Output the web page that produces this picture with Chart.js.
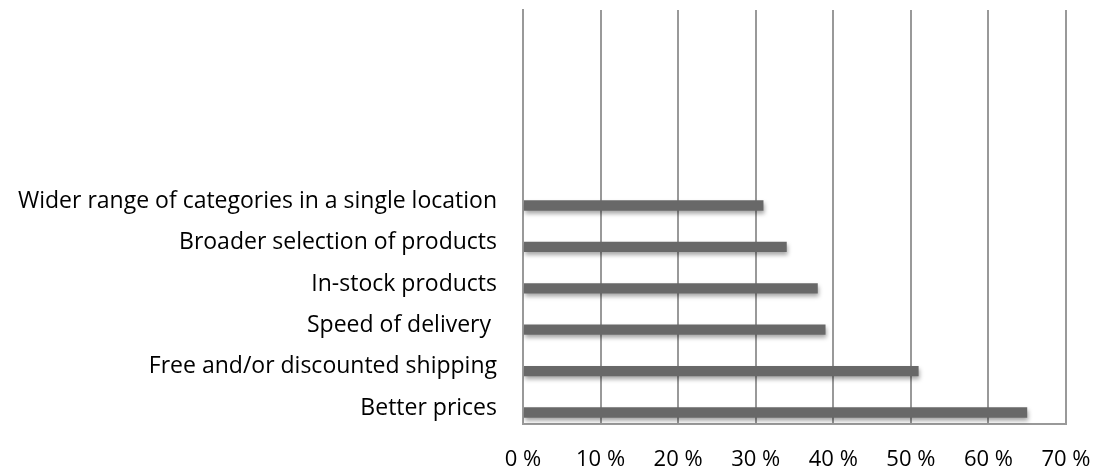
<!DOCTYPE html>
<html>
<head>
<meta charset="utf-8">
<script src="https://cdn.jsdelivr.net/npm/chart.js@4"></script>
<style>
  html, body { margin: 0; padding: 0; background: #fff; }
  #wrap { width: 1103px; height: 472px; }
</style>
</head>
<body>
<div id="wrap"><canvas id="c"></canvas></div>
<script>
// empty rows at the top are part of the original category axis
const categories = [
  '', '', '', '',
  'Wider range of categories in a single location',
  'Broader selection of products',
  'In-stock products',
  'Speed of delivery ',
  'Free and/or discounted shipping',
  'Better prices'
];
const shares = [null, null, null, null, 31, 34, 38, 39, 51, 65];
const emptySeries = [null, null, null, null, null, null, null, null, null, null];
const xTicks = [0, 10, 20, 30, 40, 50, 60, 70];

const FONT = '"Open Sans", "Noto Sans", sans-serif';

// soft drop shadow under the bars
const barShadow = {
  id: 'barShadow',
  beforeDatasetsDraw(chart) {
    const ctx = chart.ctx;
    ctx.save();
    ctx.shadowColor = 'rgba(0,0,0,0.35)';
    ctx.shadowBlur = 4;
    ctx.shadowOffsetX = 1;
    ctx.shadowOffsetY = 3;
  },
  afterDatasetsDraw(chart) {
    chart.ctx.restore();
  }
};

new Chart(document.getElementById('c'), {
  type: 'bar',
  data: {
    labels: categories,
    datasets: [{
      label: 'blank',
      data: emptySeries,
      backgroundColor: 'rgba(0,0,0,0)'
    }, {
      label: 'Share',
      data: shares,
      backgroundColor: '#686868'
    }]
  },
  options: {
    indexAxis: 'y',
    responsive: true,
    maintainAspectRatio: false,
    animation: false,
    categoryPercentage: 0.89,
    barPercentage: 0.56,
    layout: { padding: { top: 10, right: 37, bottom: 0, left: 0 } },
    plugins: {
      legend: { display: false },
      tooltip: { enabled: false }
    },
    scales: {
      x: {
        min: 0,
        max: 70,
        afterBuildTicks: (s) => { s.ticks = xTicks.map(v => ({ value: v })); },
        afterFit: (s) => { s.height = 48; s.paddingLeft = 0; s.paddingRight = 0; },
        grid: { color: '#999', lineWidth: 2, drawTicks: false },
        border: { display: true, color: '#999', width: 2 },
        ticks: {
          padding: 23,
          color: '#000',
          font: { family: FONT, size: 22 },
          callback: (v) => v + ' %'
        }
      },
      y: {
        afterFit: (s) => { s.width = 523; s.paddingTop = 0; s.paddingBottom = 0; },
        grid: { display: false, drawTicks: false },
        border: { display: true, color: '#999', width: 2 },
        ticks: {
          padding: 26,
          labelOffset: 5,
          color: '#000',
          autoSkip: false,
          font: { family: FONT, size: 23 }
        }
      }
    }
  },
  plugins: [barShadow]
});
</script>
</body>
</html>
